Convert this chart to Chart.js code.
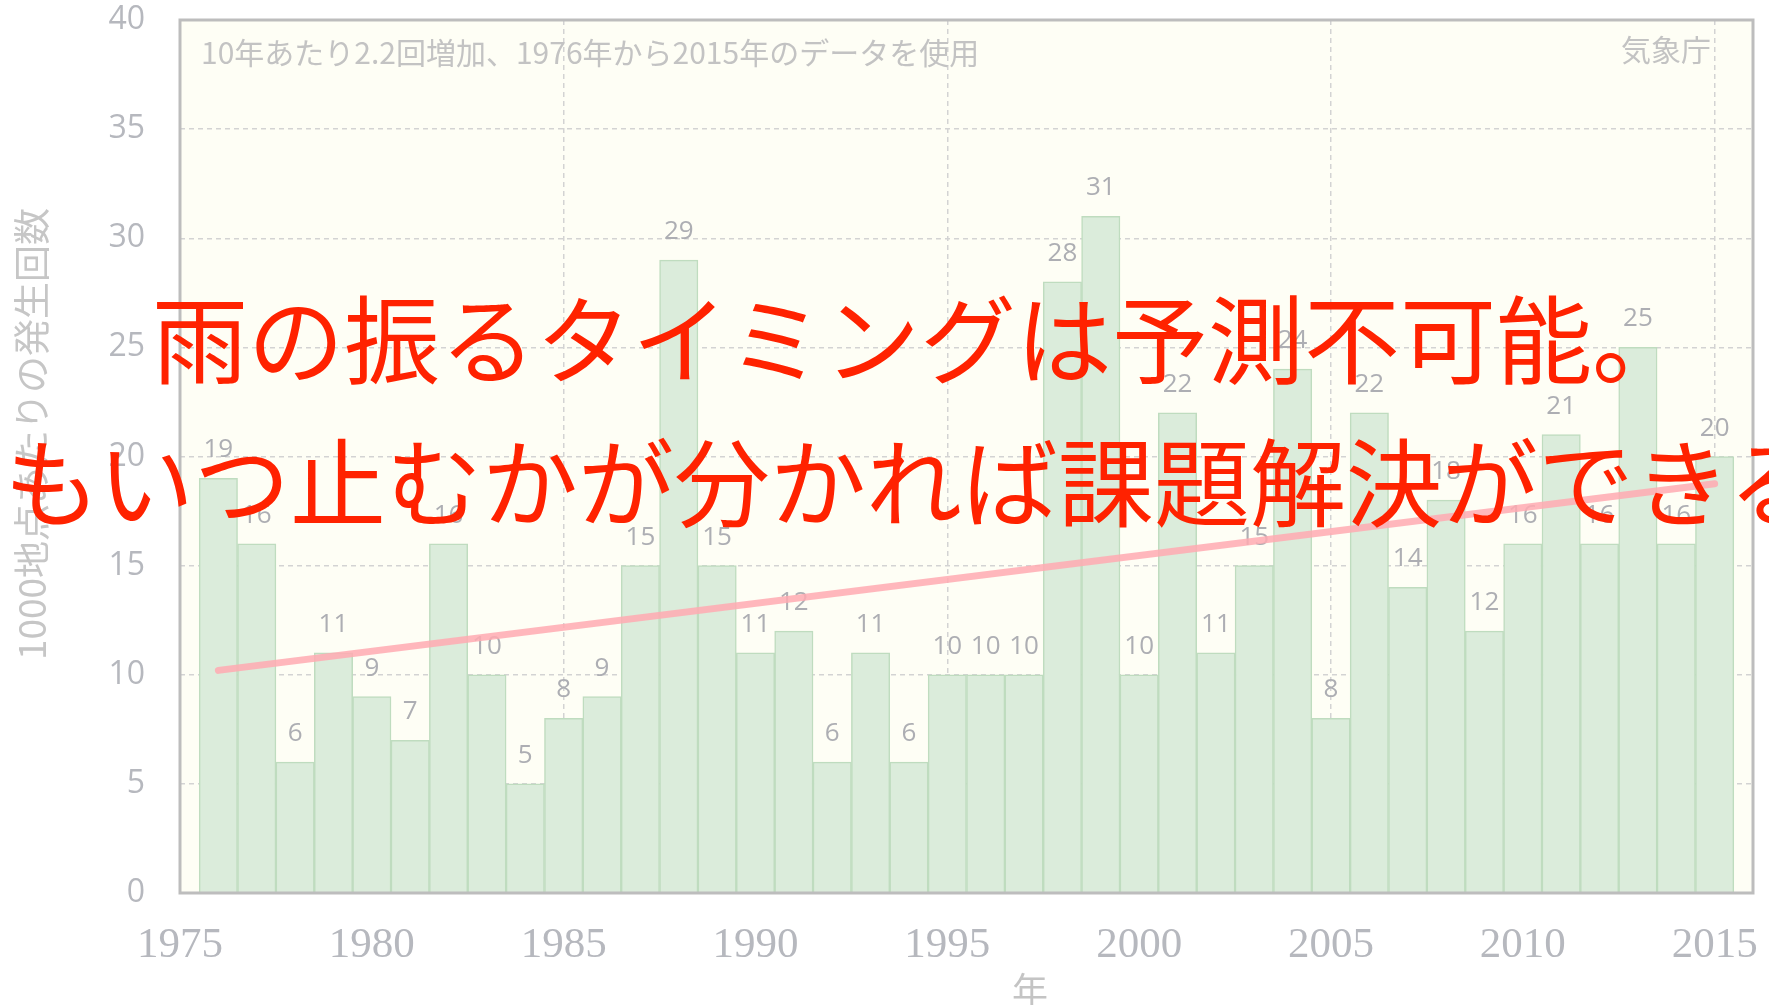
<!DOCTYPE html>
<html>
<head>
<meta charset="utf-8">
<script src="https://cdn.jsdelivr.net/npm/chart.js@4.4.1/dist/chart.umd.min.js"></script>
<style>
  html, body { margin: 0; padding: 0; background: #ffffff; }
  #wrap { position: relative; width: 1769px; height: 1005px; overflow: hidden; }
  #c { position: absolute; left: 0; top: 0; }
  .overlay {
    position: absolute; white-space: nowrap; width: max-content;
    font-family: "Noto Sans CJK JP", sans-serif; font-size: 96px; line-height: 96px;
    color: #ff2200;
  }
</style>
</head>
<body>
<div id="wrap">
  <canvas id="c" width="1769" height="1005"></canvas>
  <div class="overlay" id="line1" style="left:152px; top:287px;">雨の振るタイミングは予測不可能。</div>
  <div class="overlay" id="line2" style="left:-92px; top:430px;">でもいつ止むかが分かれば課題解決ができる。</div>
</div>
<script>
// ---- data ----
const years = [1976, 1977, 1978, 1979, 1980, 1981, 1982, 1983, 1984, 1985,
               1986, 1987, 1988, 1989, 1990, 1991, 1992, 1993, 1994, 1995,
               1996, 1997, 1998, 1999, 2000, 2001, 2002, 2003, 2004, 2005,
               2006, 2007, 2008, 2009, 2010, 2011, 2012, 2013, 2014, 2015];
const counts = [19, 16, 6, 11, 9, 7, 16, 10, 5, 8,
                9, 15, 29, 15, 11, 12, 6, 11, 6, 10,
                10, 10, 28, 31, 10, 22, 11, 15, 24, 8,
                22, 14, 18, 12, 16, 21, 16, 25, 16, 20];
const trendYears = [1976, 2015];
const trendValues = [10.2, 18.75];
const xTickYears = [1975, 1980, 1985, 1990, 1995, 2000, 2005, 2010, 2015];
const noteText = '10年あたり2.2回増加、1976年から2015年のデータを使用';
const sourceText = '気象庁';
const yTitle = '1000地点あたりの発生回数';
const xTitle = '年';

const GRID = '#d3d3d3';

const bgPlugin = {
  id: 'bg',
  beforeDraw(chart) {
    const {ctx, chartArea: a} = chart;
    ctx.save();
    ctx.fillStyle = '#ffffff';
    ctx.fillRect(0, 0, chart.width, chart.height);
    ctx.fillStyle = '#fefef5';
    ctx.fillRect(a.left, a.top, a.right - a.left, a.bottom - a.top);
    ctx.restore();
  },
  beforeDatasetsDraw(chart) {
    const {ctx, chartArea: a} = chart;
    ctx.save();
    ctx.fillStyle = '#c3c3c3';
    ctx.font = '30px "Noto Sans CJK JP"';
    ctx.textBaseline = 'middle';
    ctx.textAlign = 'left';
    ctx.fillText(noteText, a.left + 21, a.top + 33);
    ctx.textAlign = 'right';
    ctx.fillText(sourceText, a.right - 42, a.top + 30);
    ctx.restore();
  },
  afterDatasetDraw(chart, args) {
    if (args.index !== 0) return;
    const {ctx} = chart;
    ctx.save();
    ctx.fillStyle = '#adaeb3';
    ctx.font = '26px "Open Sans"';
    ctx.textAlign = 'center';
    ctx.textBaseline = 'alphabetic';
    args.meta.data.forEach((el, i) => {
      ctx.fillText(String(counts[i]), el.x, el.y - 21);
    });
    ctx.restore();
  },
  afterDraw(chart) {
    const {ctx, chartArea: a} = chart;
    ctx.save();
    ctx.strokeStyle = '#bdbdbd';
    ctx.lineWidth = 3;
    ctx.strokeRect(a.left, a.top, a.right - a.left, a.bottom - a.top);
    ctx.fillStyle = '#c4c4c4';
    ctx.font = '36px "Noto Sans CJK JP"';
    ctx.textAlign = 'center';
    ctx.textBaseline = 'middle';
    ctx.fillText(xTitle, 1030, 990);
    ctx.translate(32, 434);
    ctx.rotate(-Math.PI / 2);
    ctx.font = '37px "Noto Sans CJK JP"';
    ctx.fillStyle = '#c6c6c6';
    ctx.fillText(yTitle, 0, 0);
    ctx.restore();
  }
};

const ctx = document.getElementById('c').getContext('2d');
new Chart(ctx, {
  data: {
    datasets: [
      {
        type: 'bar',
        label: '発生回数',
        data: years.map((y, i) => ({x: y, y: counts[i]})),
        backgroundColor: '#dbecdb',
        borderColor: '#bfdcbf',
        borderWidth: 1.5,
        barPercentage: 1,
        categoryPercentage: 1,
        order: 2
      },
      {
        type: 'line',
        label: 'トレンド',
        data: trendYears.map((y, i) => ({x: y, y: trendValues[i]})),
        borderColor: 'rgba(255,170,177,0.85)',
        borderWidth: 7,
        borderCapStyle: 'round',
        pointRadius: 0,
        fill: false,
        order: 1
      }
    ]
  },
  options: {
    responsive: false,
    devicePixelRatio: 1,
    animation: false,
    layout: {padding: {top: 20, right: 16, left: 0, bottom: 0}},
    plugins: {legend: {display: false}, tooltip: {enabled: false}},
    scales: {
      x: {
        type: 'linear',
        min: 1975,
        max: 2016,
        offset: false,
        afterBuildTicks: s => { s.ticks = xTickYears.map(v => ({value: v})); },
        afterFit: s => { s.height = 112; s.paddingLeft = 0; s.paddingRight = 0; },
        ticks: {
          autoSkip: false, maxRotation: 0, padding: 27,
          font: {family: '"Liberation Serif"', size: 43},
          color: '#b6b8be',
          callback: v => String(v)
        },
        grid: {
          offset: false,
          color: c => (c.tick && c.tick.value % 10 === 5) ? GRID : 'rgba(0,0,0,0)',
          lineWidth: 1.5,
          drawTicks: false
        },
        border: {display: false, dash: [5, 4]}
      },
      y: {
        min: 0,
        max: 40,
        afterFit: s => { s.width = 180; s.paddingTop = 0; s.paddingBottom = 0; },
        ticks: {
          stepSize: 5, padding: 35,
          font: {family: '"Open Sans"', size: 32},
          color: '#b6b8be'
        },
        grid: {color: GRID, lineWidth: 1.5, drawTicks: false},
        border: {display: false, dash: [5, 4]},
        title: {display: false, text: yTitle}
      }
    }
  },
  plugins: [bgPlugin]
});
</script>
</body>
</html>
